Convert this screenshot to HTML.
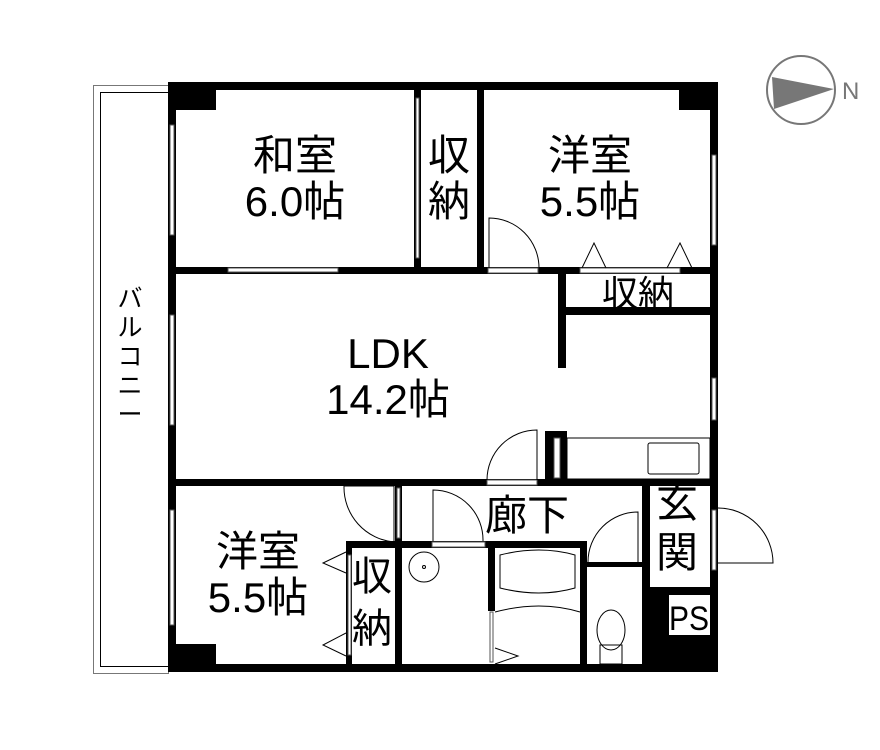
<!DOCTYPE html>
<html><head><meta charset="utf-8"><style>
html,body{margin:0;padding:0;background:#fff}
svg{display:block}
text{font-family:"Liberation Sans","Noto Sans CJK JP",sans-serif;fill:#000}
</style></head><body>
<svg width="880" height="750" viewBox="0 0 880 750" xmlns="http://www.w3.org/2000/svg">
<circle cx="801" cy="90" r="34" fill="none" stroke="#777" stroke-width="2"/>
<polygon points="772,77 774,109 834,89" fill="#777"/>
<text x="842" y="99" font-size="24" style="fill:#777">N</text>
<rect x="93.5" y="85.5" width="75" height="588" fill="none" stroke="#777" stroke-width="1"/>
<rect x="100.5" y="92.5" width="68" height="574" fill="none" stroke="#000" stroke-width="1"/>
<text font-size="25" text-anchor="middle"><tspan x="130" y="307">バ</tspan><tspan x="130" y="336">ル</tspan><tspan x="130" y="365">コ</tspan><tspan x="130" y="394">ニ</tspan><tspan x="130" y="423">ー</tspan></text>
<g fill="#000">
<rect x="168" y="82" width="550" height="8"/>
<rect x="168" y="82" width="8" height="590"/>
<rect x="710" y="82" width="8" height="590"/>
<rect x="168" y="664" width="550" height="8"/>
<rect x="168" y="82" width="48" height="28"/>
<rect x="679" y="82" width="39" height="28"/>
<rect x="168" y="644" width="48" height="28"/>
<rect x="168" y="267" width="550" height="7"/>
<rect x="414" y="82" width="7" height="192"/>
<rect x="477" y="82" width="7" height="192"/>
<rect x="558" y="270" width="8" height="98"/>
<rect x="566" y="307" width="150" height="8"/>
<rect x="168" y="479" width="550" height="7"/>
<rect x="545" y="431" width="22" height="55"/>
<rect x="346" y="541" width="241" height="7"/>
<rect x="395" y="479" width="7" height="193"/>
<rect x="488" y="541" width="7" height="70"/>
<rect x="580" y="541" width="7" height="131"/>
<rect x="587" y="562" width="55" height="5"/>
<rect x="642" y="486" width="8" height="186"/>
<rect x="642" y="587" width="76" height="85"/>
<rect x="346" y="541" width="6" height="131"/>
</g>
<g fill="#fff" stroke="#555" stroke-width="1">
<rect x="170" y="125" width="4" height="110"/>
<rect x="170" y="315" width="4" height="110"/>
<rect x="170" y="510" width="4" height="115"/>
<rect x="228" y="268" width="110" height="4"/>
<rect x="488" y="268" width="50" height="5"/>
<rect x="580" y="268" width="100" height="5"/>
<rect x="416" y="98" width="3" height="160"/>
<rect x="712" y="155" width="4" height="90"/>
<rect x="712" y="378" width="4" height="42"/>
<rect x="712" y="510" width="4" height="60"/>
<rect x="487" y="480" width="50" height="5"/>
<rect x="554" y="438" width="6" height="40"/>
<rect x="397" y="488" width="3" height="50"/>
<rect x="432" y="542" width="53" height="5"/>
<rect x="348" y="555" width="3" height="100"/>
<rect x="490" y="612" width="3" height="50"/>
</g>
<rect x="669" y="595" width="41" height="40" fill="#fff"/>
<text x="689" y="630" font-size="34" text-anchor="middle" textLength="40" lengthAdjust="spacingAndGlyphs">PS</text>
<g fill="none" stroke="#000" stroke-width="1">
<path d="M489 268 V218 A50 50 0 0 1 539 268"/>
<path d="M537 480 V430 A50 50 0 0 0 487 480"/>
<path d="M344 486 H394 V542 A55 55 0 0 1 344 486"/>
<path d="M433 541 V490 A50 50 0 0 1 483 541"/>
<path d="M638 562 V512 A50 50 0 0 0 588 562"/>
<path d="M718 508 A55 55 0 0 1 773 563 H718"/>
<polyline points="582,268 594,243 606,268"/>
<polyline points="667,268 680,243 692,268"/>
<polyline points="346,552 323,563 346,573"/>
<polyline points="346,633 323,645 346,656"/>
<polyline points="495,648 518,656 495,664"/>
<rect x="567" y="438" width="143" height="41"/>
<rect x="648" y="443" width="51" height="31" rx="2"/>
<circle cx="424" cy="567" r="15"/>
<circle cx="424" cy="567" r="1.5"/>
<path d="M500 555 Q540 545 575 555 V588 Q540 598 500 588 Z"/>
<path d="M495 612 Q540 600 580 612"/>
<ellipse cx="611" cy="630" rx="14" ry="20"/>
<rect x="600" y="645" width="22" height="19"/>
</g>
<g font-size="42" text-anchor="middle">
<text x="295" y="170">和室</text>
<text x="295" y="216">6.0帖</text>
<text x="449" y="170">収</text>
<text x="449" y="216">納</text>
<text x="590" y="170">洋室</text>
<text x="590" y="216">5.5帖</text>
<text x="388" y="368">LDK</text>
<text x="388" y="414">14.2帖</text>
<text x="527" y="530">廊下</text>
<text x="677" y="517">玄</text>
<text x="677" y="567">関</text>
<text x="258" y="566">洋室</text>
<text x="258" y="612">5.5帖</text>
<text x="372" y="590" font-size="40">収</text>
<text x="372" y="642" font-size="40">納</text>
<text x="638" y="306" font-size="36">収納</text>
</g>
</svg>
</body></html>
